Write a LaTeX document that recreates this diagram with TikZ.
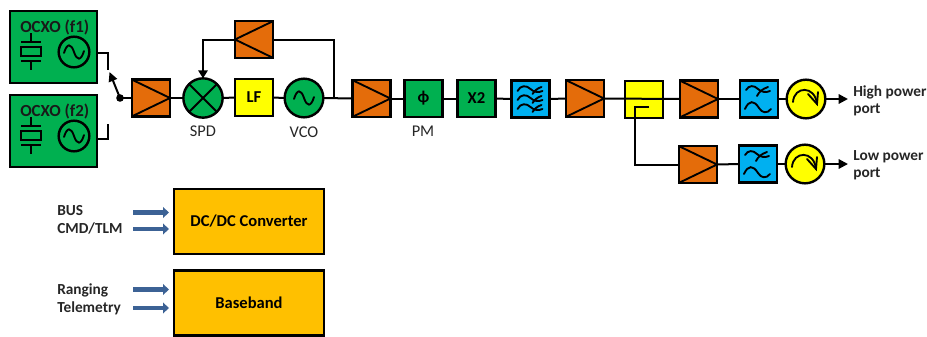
\documentclass[tikz,border=0pt]{standalone}
\usepackage{fontspec}
\setmainfont{Carlito}
\usetikzlibrary{arrows.meta}
\definecolor{grn}{HTML}{00B050}
\definecolor{org}{HTML}{E46C0A}
\definecolor{ylw}{HTML}{FFFF00}
\definecolor{blu}{HTML}{00B0F0}
\definecolor{gold}{HTML}{FFC000}
\definecolor{barrow}{HTML}{3C6295}
\definecolor{lbl}{HTML}{262626}
\tikzset{
  x=0.75pt,y=-0.75pt,
  wire/.style={line width=1.5pt,line join=miter},
  box/.style={draw=black,line width=1.8pt,minimum width=28.5pt,minimum height=27.5pt,inner sep=0pt,outer sep=0pt,font=\bfseries\fontsize{12.5}{14}\selectfont},
  grnbox/.style={box,fill=grn},
  orgbox/.style={box,fill=org},
  ylwbox/.style={box,fill=ylw},
  blubox/.style={box,fill=blu},
  disc/.style={circle,draw=black,line width=1.8pt,minimum size=29pt,inner sep=0pt,outer sep=0pt},
  ocxo/.style={draw=black,line width=1.8pt,fill=grn,minimum width=65pt,minimum height=54pt,inner sep=0pt,outer sep=0pt},
  psu/.style={draw=black,line width=1.8pt,fill=gold,minimum width=112.5pt,minimum height=48.5pt,inner sep=0pt,outer sep=0pt,font=\bfseries\fontsize{12.4}{14}\selectfont},
  caplbl/.style={font=\fontsize{12.3}{14}\selectfont,text=lbl,inner sep=0pt},
  txt/.style={font=\bfseries\fontsize{11.5}{12.75}\selectfont,inner sep=0pt,align=left,anchor=west,text=black!85},
  osctxt/.style={font=\bfseries\fontsize{12.7}{14}\selectfont,inner sep=0pt,anchor=west,text=black!90},
  bus/.style={line width=3.4pt,draw=barrow,-{Triangle[length=4.5pt,width=8pt]}},
  glyph/.style={line width=1.4pt,line cap=round}
}
\newcommand{\ampr}[1]{\draw[line width=1.4pt] (#1.north west)--(#1.east)--(#1.south west);}
\newcommand{\ampl}[1]{\draw[line width=1.4pt] (#1.north east)--(#1.west)--(#1.south east);}
\newcommand{\sinewave}[1]{\begin{scope}[shift={(#1.center)}]\draw[glyph] (-10,1) .. controls (-7,-9) and (-3,-9) .. (0,0) .. controls (3,9) and (7,9) .. (10,-1);\end{scope}}
\newcommand{\crystal}[2]{\begin{scope}[shift={(#1,#2)}]
  \draw[line width=1.4pt] (0,-19)--(0,-10) (-10,-10)--(10,-10) (-10,9)--(10,9) (0,9)--(0,18);
  \draw[line width=1.4pt] (-10,-5) rectangle (10,4);
\end{scope}}
\newcommand{\circul}[1]{\begin{scope}[shift={(#1.center)}]
  \draw[glyph] (-13,3) .. controls (-12,-13) and (9,-14) .. (11,5);
  \draw[glyph] (2,-5) -- (11,5) -- (12,-7);
\end{scope}}
\newcommand{\lowpass}[1]{\begin{scope}[shift={(#1.center)}]
  \draw[glyph] (-13,-9) .. controls (-10,-14) and (-5,-14) .. (-1,-10) .. controls (2,-7) and (7,-6) .. (11,-8);
  \draw[glyph] (-2,-3) .. controls (0,-7) and (3,-10) .. (9,-12);
  \draw[glyph] (-14,10) .. controls (-10,1) and (-5,1) .. (0,9) .. controls (3,14) and (8,15) .. (12,10);
\end{scope}}
\newcommand{\bandpass}[1]{\begin{scope}[shift={(#1.center)}]
  \foreach \d in {-9,0,9}{
    \draw[glyph] (-13,\d+1) .. controls (-10,\d-5) and (-4,\d-5) .. (0,\d-1) .. controls (3,\d+2) and (8,\d+3) .. (12,\d+1);
    \draw[glyph] (2,\d+4) .. controls (4,\d+1) and (7,\d-2) .. (11,\d-3);
  }
\end{scope}}
\begin{document}
\begin{tikzpicture}
\useasboundingbox (0,0) rectangle (927,336);
% OCXO
\node[ocxo] (o1) at (53.5,47) {};
\node[ocxo] (o2) at (53.5,131) {};
\node[osctxt] (o1t) at (20,27) {OCXO (f1)};
\node[osctxt] (o2t) at (20,111) {OCXO (f2)};
\crystal{31}{52}
\crystal{31}{136}
\node[disc,minimum size=23pt] (s1) at (74,52) {};
\node[disc,minimum size=23pt] (s2) at (74,136) {};
\sinewave{s1}\sinewave{s2}
% main row
\node[orgbox] (a1) at (151,98) {};
\node[disc,fill=grn,minimum size=29.5pt] (spd) at (203,98) {};
\node[ylwbox] (lf) at (254,97.5) {LF};
\node[disc,fill=grn] (vco) at (304,98) {};
\node[orgbox] (fb) at (254,39.5) {};
\node[orgbox] (a2) at (371.5,98.5) {};
\node[grnbox] (pm) at (423.5,98.5) {ϕ};
\node[grnbox] (x2) at (476.5,98.5) {X2};
\node[blubox] (bp) at (530.5,99) {};
\node[orgbox] (a3) at (585,98.5) {};
\node[ylwbox] (cp) at (644,99.5) {};
\node[orgbox] (a4) at (699,99) {};
\node[blubox] (lp1) at (759,99) {};
\node[disc,fill=ylw] (c1) at (806,99) {};
\node[orgbox] (a5) at (698,164.5) {};
\node[blubox] (lp2) at (758,164) {};
\node[disc,fill=ylw] (c2) at (805,164) {};
\node[caplbl] (l1) at (203,131) {SPD};
\node[caplbl] (l2) at (304,132) {VCO};
\node[caplbl] (l3) at (423,131) {PM};
% free ends
\coordinate (t1) at (108,70);
\coordinate (t2) at (108,124);
\coordinate (piv) at (120,98);
\coordinate (tap) at (649,107);
\coordinate (vtap) at (334,98);
\coordinate (hp) at (848,99);
\coordinate (lp) at (848,164);
% wires
\draw[wire] (o1.east |- t1) ++(0,-17) -- (108,53) -- (t1);
\draw[wire] (o2.east |- t2) ++(0,15) -- (108,139) -- (t2);
\fill (piv) circle (3.8);
\draw[wire,-{Triangle[length=7pt,width=6.5pt]}] (piv) -- (109.5,72);
\draw[wire] (piv) -- (a1.west);
\draw[wire] (a1) -- (spd);
\draw[wire] (spd) -- (lf);
\draw[wire] (lf) -- (vco);
\draw[wire] (vco.east) -- (a2.west);
\draw[wire] (vtap) -- (334,39.5) -- (fb.east);
\draw[wire,-{Triangle[length=6pt,width=7pt]}] (fb.west) -- (203,39.5) -- (spd.north);
\draw[wire] (a2) -- (pm);
\draw[wire] (pm) -- (x2);
\draw[wire] (x2) -- (bp);
\draw[wire] (bp) -- (a3);
\draw[wire] (a3.east) -- (a4.west);
\draw[wire] (a4) -- (lp1);
\draw[wire] (lp1) -- (c1);
\draw[wire,-{Triangle[length=7pt,width=7pt]}] (c1) -- (hp);
\draw[wire] (tap) -- (635,107) -- (635,164.5) -- (a5.west);
\draw[wire] (a5) -- (lp2);
\draw[wire] (lp2) -- (c2);
\draw[wire,-{Triangle[length=7pt,width=7pt]}] (c2) -- (lp);
% glyphs
\ampr{a1}\ampl{fb}\ampr{a2}\ampr{a3}\ampr{a4}\ampr{a5}
\draw[line width=1.4pt] (spd.north west) -- (spd.south east) (spd.north east) -- (spd.south west);
\sinewave{vco}
\bandpass{bp}
\lowpass{lp1}\lowpass{lp2}
\circul{c1}\circul{c2}
% text ports
\node[txt] (hpt) at (853,100.5) {High power\\port};
\node[txt] (lpt) at (853,165.5) {Low power\\port};
% lower
\node[psu] (dc) at (249,221.5) {DC/DC Converter};
\node[psu] (bb) at (249,303) {Baseband};
\node[txt] (n1) at (57,210.5) {BUS};
\node[txt] (n2) at (57,228.5) {CMD/TLM};
\node[txt] (n3) at (57,290.5) {Ranging};
\node[txt] (n4) at (57,308.5) {Telemetry};
\draw[bus] (133,212.5) -- (169,212.5);
\draw[bus] (133,229) -- (169,229);
\draw[bus] (133,289.5) -- (169,289.5);
\draw[bus] (133,308) -- (169,308);
\end{tikzpicture}
\end{document}
